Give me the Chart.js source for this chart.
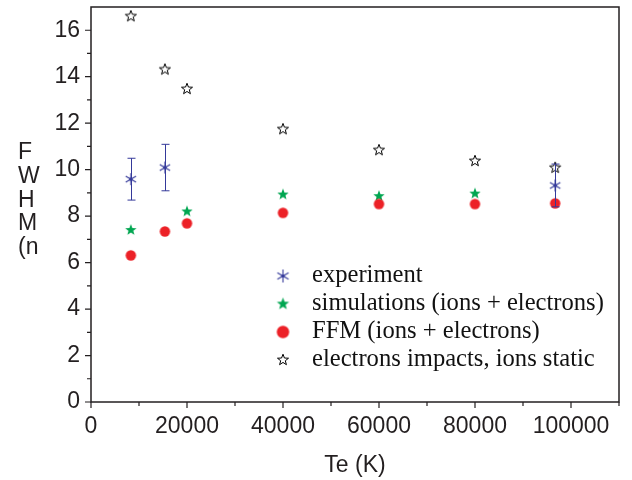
<!DOCTYPE html>
<html>
<head>
<meta charset="utf-8">
<script src="https://cdn.jsdelivr.net/npm/chart.js@4.4.0/dist/chart.umd.min.js"></script>
<style>
html, body { margin: 0; padding: 0; background: #fff; }
</style>
</head>
<body>
<canvas id="chart" width="632" height="480"></canvas>
<script>
// values: FWHM vs electron temperature
const teExp = [8300, 15400, 96700];
const fwhmExp = [9.59, 10.09, 9.32];
const errExp = [0.9, 1.0, 0.92];

const teSim = [8300, 20000, 40000, 60000, 80000];
const fwhmSim = [7.40, 8.20, 8.93, 8.86, 8.97];

const teFfm = [8300, 15400, 20000, 40000, 60000, 80000, 96700];
const fwhmFfm = [6.31, 7.34, 7.69, 8.14, 8.52, 8.52, 8.55];

const teStatic = [8300, 15400, 20000, 40000, 60000, 80000, 96700];
const fwhmStatic = [16.6, 14.31, 13.47, 11.74, 10.84, 10.37, 10.08];

const seriesNames = [
    'experiment',
    'simulations (ions + electrons)',
    'FFM (ions + electrons)',
    'electrons impacts, ions static'
];
const yTitleLines = ['F', 'W', 'H', 'M', '(n'];

const BLUE = '#34399a';
const GREEN = '#00a651';
const RED = '#ec2127';
const INK = '#231f20';

function pairs(xs, ys) {
    return xs.map((x, i) => ({ x: x, y: ys[i] }));
}

// marker images
function starCanvas(r, fill, stroke) {
    const s = Math.ceil(r * 2 + 4);
    const c = document.createElement('canvas');
    c.width = s; c.height = s;
    const g = c.getContext('2d');
    g.beginPath();
    for (let i = 0; i < 10; i++) {
        const rad = i % 2 === 0 ? r : r * 0.42;
        const a = -Math.PI / 2 + i * Math.PI / 5;
        const px = s / 2 + rad * Math.cos(a), py = s / 2 + rad * Math.sin(a);
        if (i === 0) g.moveTo(px, py); else g.lineTo(px, py);
    }
    g.closePath();
    g.fillStyle = fill;
    g.fill();
    if (stroke) {
        g.strokeStyle = stroke;
        g.lineWidth = 1;
        g.stroke();
    }
    return c;
}

function asteriskCanvas(r, color) {
    const s = Math.ceil(r * 2 + 4);
    const c = document.createElement('canvas');
    c.width = s; c.height = s;
    const g = c.getContext('2d');
    g.strokeStyle = color;
    g.lineWidth = 1.1;
    [90, 30, 150].forEach(d => {
        const a = d * Math.PI / 180;
        g.beginPath();
        g.moveTo(s / 2 - r * Math.cos(a), s / 2 - r * Math.sin(a));
        g.lineTo(s / 2 + r * Math.cos(a), s / 2 + r * Math.sin(a));
        g.stroke();
    });
    g.beginPath();
    g.arc(s / 2, s / 2, 1.8, 0, Math.PI * 2);
    g.fillStyle = color;
    g.fill();
    return c;
}

function dotCanvas(r, color) {
    const s = Math.ceil(r * 2 + 2);
    const c = document.createElement('canvas');
    c.width = s; c.height = s;
    const g = c.getContext('2d');
    g.beginPath();
    g.arc(s / 2, s / 2, r, 0, Math.PI * 2);
    g.fillStyle = color;
    g.fill();
    return c;
}

const markExp = asteriskCanvas(6, BLUE);
const markSim = starCanvas(6, GREEN);
const markFfm = dotCanvas(5.2, RED);
const markStatic = starCanvas(5.8, '#fff', '#000');

const legendMarks = [
    asteriskCanvas(6.5, BLUE),
    starCanvas(6.5, GREEN),
    dotCanvas(6.2, RED),
    starCanvas(5.8, '#fff', '#000')
];

const extras = {
    id: 'extras',
    afterDatasetsDraw(chart) {
        const ctx = chart.ctx;
        const xs = chart.scales.x, ys = chart.scales.y;
        ctx.save();
        ctx.strokeStyle = BLUE;
        ctx.lineWidth = 1;
        teExp.forEach((t, i) => {
            const px = Math.round(xs.getPixelForValue(t)) + 0.5;
            const top = ys.getPixelForValue(fwhmExp[i] + errExp[i]);
            const bot = ys.getPixelForValue(fwhmExp[i] - errExp[i]);
            ctx.beginPath();
            ctx.moveTo(px, top); ctx.lineTo(px, bot);
            ctx.moveTo(px - 4, top); ctx.lineTo(px + 4, top);
            ctx.moveTo(px - 4, bot); ctx.lineTo(px + 4, bot);
            ctx.stroke();
        });
        ctx.restore();
    },
    afterDraw(chart) {
        const ctx = chart.ctx;
        const a = chart.chartArea;
        const xs = chart.scales.x, ys = chart.scales.y;
        ctx.save();
        ctx.strokeStyle = INK;
        ctx.lineWidth = 1.5;
        ctx.strokeRect(a.left, a.top, a.right - a.left, a.bottom - a.top);

        // ticks, long where labelled
        ctx.lineWidth = 1.2;
        ctx.beginPath();
        ys.ticks.forEach(t => {
            if (t.value >= ys.max) return;
            const py = ys.getPixelForValue(t.value);
            const len = t.label !== '' ? 6 : 4;
            ctx.moveTo(a.left - len, py); ctx.lineTo(a.left, py);
        });
        xs.ticks.forEach(t => {
            const px = xs.getPixelForValue(t.value);
            const len = t.label !== '' ? 6 : 4;
            ctx.moveTo(px, a.bottom); ctx.lineTo(px, a.bottom + len);
        });
        ctx.stroke();

        // stacked y title
        ctx.fillStyle = INK;
        ctx.font = '23px "Liberation Sans", Arial, sans-serif';
        ctx.textAlign = 'left';
        ctx.textBaseline = 'middle';
        yTitleLines.forEach((s, i) => ctx.fillText(s, 18, 153 + i * 23.7));

        // legend inside the plot
        ctx.font = '24.6px "Liberation Serif", "Times New Roman", serif';
        ctx.fillStyle = '#111';
        seriesNames.forEach((name, i) => {
            const cy = 276 + i * 28;
            const m = legendMarks[i];
            ctx.drawImage(m, 283 - m.width / 2, cy - m.height / 2);
            ctx.fillText(name, 312, cy);
        });
        ctx.restore();
    }
};

const tickFont = { family: '"Liberation Sans", Arial, sans-serif', size: 23 };

new Chart(document.getElementById('chart'), {
    type: 'scatter',
    data: {
        datasets: [
            { label: seriesNames[0], data: pairs(teExp, fwhmExp), pointStyle: markExp, order: 0 },
            { label: seriesNames[1], data: pairs(teSim, fwhmSim), pointStyle: markSim, order: 2 },
            { label: seriesNames[2], data: pairs(teFfm, fwhmFfm), pointStyle: markFfm, order: 1 },
            { label: seriesNames[3], data: pairs(teStatic, fwhmStatic), pointStyle: markStatic, order: 3 }
        ]
    },
    plugins: [extras],
    options: {
        responsive: false,
        animation: false,
        events: [],
        layout: { padding: { top: 7, right: 13, left: 0, bottom: 0 } },
        plugins: {
            legend: { display: false },
            tooltip: { enabled: false }
        },
        scales: {
            x: {
                type: 'linear',
                min: 0,
                max: 110000,
                afterFit: s => { s.height = 78; s.paddingLeft = 0; s.paddingRight = 0; },
                grid: { display: false, drawTicks: false },
                border: { display: false },
                ticks: {
                    stepSize: 10000,
                    padding: 11,
                    color: INK,
                    font: tickFont,
                    maxRotation: 0,
                    autoSkip: false,
                    callback: v => v % 20000 === 0 ? String(v) : ''
                },
                title: {
                    display: true,
                    text: 'Te (K)',
                    color: INK,
                    font: tickFont,
                    padding: { top: 0, bottom: 1 }
                }
            },
            y: {
                min: 0,
                max: 17,
                afterFit: s => { s.width = 91; s.paddingTop = 0; s.paddingBottom = 0; },
                grid: { display: false, drawTicks: false },
                border: { display: false },
                ticks: {
                    stepSize: 1,
                    padding: 11,
                    color: INK,
                    font: tickFont,
                    autoSkip: false,
                    callback: v => v % 2 === 0 ? String(v) : ''
                }
            }
        }
    }
});
</script>
</body>
</html>
